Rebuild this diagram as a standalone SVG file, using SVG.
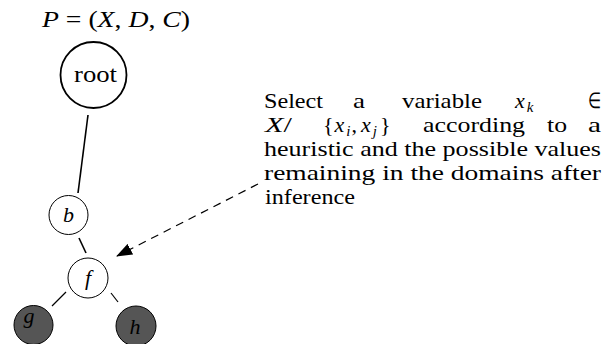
<svg xmlns="http://www.w3.org/2000/svg" width="607" height="344" viewBox="0 0 607 344">
<style>
text{font-family:"Liberation Serif","Times New Roman",serif;fill:#000}
.t{font-size:22px}
.m{font-style:italic}
.s{font-size:15px;font-style:italic}
.n{fill:#fff;stroke:#000;stroke-width:1}
.d{fill:#555;stroke:#000;stroke-width:1}
.e{stroke:#000;stroke-width:1.2;fill:none}
</style>
<defs>
<marker id="ah" markerWidth="16" markerHeight="12" refX="15" refY="6" orient="auto" markerUnits="userSpaceOnUse">
<path d="M0,0 L16,6 L0,12 Z" fill="#000"/>
</marker>
</defs>
<text class="t" x="42" y="27" textLength="148" lengthAdjust="spacingAndGlyphs" style="font-size:23px"><tspan class="m">P</tspan> = (<tspan class="m">X</tspan>, <tspan class="m">D</tspan>, <tspan class="m">C</tspan>)</text>
<g id="connectors">
<line class="e" x1="88" y1="115" x2="78" y2="193" style="stroke-width:1.6"/>
<line class="e" x1="79" y1="238" x2="86" y2="253" style="stroke-width:1.6"/>
<line class="e" x1="66" y1="292" x2="52" y2="306"/>
<line class="e" x1="111" y1="293" x2="118" y2="302"/>
<line class="e" x1="258" y1="184" x2="117" y2="256" stroke-dasharray="8,6" marker-end="url(#ah)"/>
</g>
<g id="root">
<circle cx="93.5" cy="75" r="33" class="n" style="stroke-width:1.8"/>
<text class="t" x="74" y="82" textLength="43" lengthAdjust="spacingAndGlyphs" style="font-size:23px">root</text>
</g>
<g id="b">
<circle cx="68.5" cy="215" r="19.5" class="n"/>
<text class="t m" x="68.5" y="222" text-anchor="middle">b</text>
</g>
<g id="f">
<circle cx="88" cy="278" r="20" class="n"/>
<text class="t m" x="88" y="285" text-anchor="middle">f</text>
</g>
<g id="g">
<circle cx="33.5" cy="325" r="19.5" class="d"/>
<text class="t m" x="29" y="323" text-anchor="middle">g</text>
</g>
<g id="h">
<circle cx="136" cy="326" r="20" class="d"/>
<text class="t m" x="135" y="334" text-anchor="middle">h</text>
</g>
<g id="note">
<text class="t" x="264" y="108" textLength="59" lengthAdjust="spacingAndGlyphs">Select</text>
<text class="t" x="353" y="108" textLength="12" lengthAdjust="spacingAndGlyphs">a</text>
<text class="t" x="402" y="108" textLength="80" lengthAdjust="spacingAndGlyphs">variable</text>
<text class="t m" x="515" y="108">x<tspan class="s" dx="2" dy="4">k</tspan></text>
<text class="t" x="588" y="108" textLength="13" lengthAdjust="spacingAndGlyphs">∈</text>
<text class="t" x="265" y="132" textLength="27" lengthAdjust="spacingAndGlyphs"><tspan class="m">X</tspan>/</text>
<text class="t" x="323" y="132">{<tspan class="m" dx="1">x</tspan><tspan class="s" dx="2" dy="4">i</tspan><tspan dx="1" dy="-4">,</tspan><tspan class="m" dx="4">x</tspan><tspan class="s" dx="2" dy="4">j</tspan><tspan dx="3" dy="-4">}</tspan></text>
<text class="t" x="423" y="132" textLength="102" lengthAdjust="spacingAndGlyphs">according</text>
<text class="t" x="547" y="132" textLength="20" lengthAdjust="spacingAndGlyphs">to</text>
<text class="t" x="588" y="132" textLength="13" lengthAdjust="spacingAndGlyphs">a</text>
<text class="t" x="264" y="156" textLength="337" lengthAdjust="spacingAndGlyphs">heuristic and the possible values</text>
<text class="t" x="264" y="180" textLength="337" lengthAdjust="spacingAndGlyphs">remaining in the domains after</text>
<text class="t" x="265" y="204" textLength="90" lengthAdjust="spacingAndGlyphs">inference</text>
</g>
</svg>
